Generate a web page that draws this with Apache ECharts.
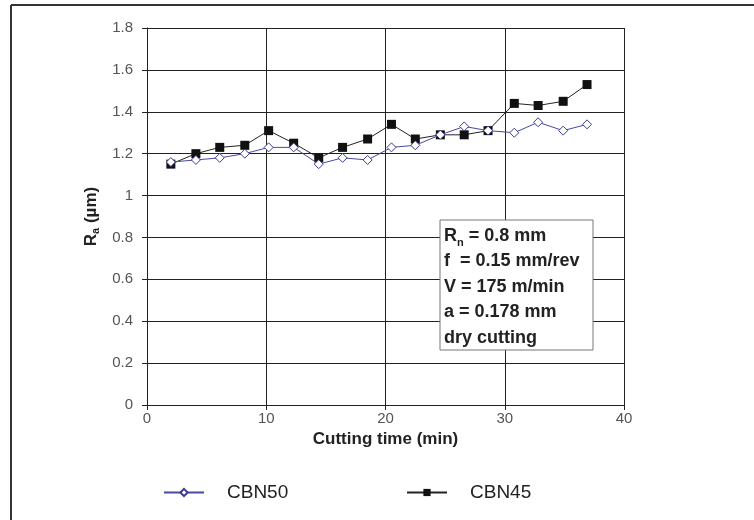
<!DOCTYPE html>
<html>
<head>
<meta charset="utf-8">
<script src="https://cdn.jsdelivr.net/npm/echarts@6/dist/echarts.min.js"></script>
<style>html,body{margin:0;padding:0;background:#fff}#c{width:754px;height:520px}</style>
</head>
<body>
<div id="c"></div>
<script>
const times = [2, 4.1, 6.1, 8.2, 10.2, 12.3, 14.4, 16.4, 18.5, 20.5, 22.5, 24.6, 26.6, 28.6, 30.8, 32.8, 34.9, 36.9];
const cbn50 = [1.16, 1.17, 1.18, 1.2, 1.23, 1.23, 1.15, 1.18, 1.17, 1.23, 1.24, 1.29, 1.33, 1.31, 1.3, 1.35, 1.31, 1.34];
const cbn45 = [1.15, 1.2, 1.23, 1.24, 1.31, 1.25, 1.18, 1.23, 1.27, 1.34, 1.27, 1.29, 1.29, 1.31, 1.44, 1.43, 1.45, 1.53];
const xTicks = [0, 10, 20, 30, 40];
const yTicks = [0, 0.2, 0.4, 0.6, 0.8, 1, 1.2, 1.4, 1.6, 1.8];
const noteLines = ['R{s|n} = 0.8 mm', 'f  = 0.15 mm/rev', 'V = 175 m/min', 'a = 0.178 mm', 'dry cutting'];

const chart = echarts.init(document.getElementById('c'), null, {renderer: 'canvas'});
const font = 'Liberation Sans, Arial, sans-serif';
chart.setOption({
  animation: false,
  backgroundColor: '#fff',
  grid: {left: 147, right: 130, top: 28, bottom: 115, containLabel: false},
  xAxis: {
    type: 'value', min: xTicks[0], max: xTicks[xTicks.length - 1], interval: 10,
    name: 'Cutting time (min)', nameLocation: 'middle', nameGap: 25,
    nameTextStyle: {fontFamily: font, fontWeight: 'bold', fontSize: 17, color: '#222'},
    axisLine: {show: true, lineStyle: {color: '#222', width: 1}},
    axisTick: {show: true, length: 5, lineStyle: {color: '#222'}},
    axisLabel: {fontFamily: font, fontSize: 15, color: '#555', margin: 6},
    splitLine: {show: true, lineStyle: {color: '#222', width: 1}}
  },
  yAxis: {
    type: 'value', min: yTicks[0], max: yTicks[yTicks.length - 1], interval: 0.2,
    name: 'R{s|a} (µm)', nameLocation: 'middle', nameGap: 31,
    nameTextStyle: {fontFamily: font, fontWeight: 'bold', fontSize: 17, color: '#222',
      rich: {s: {fontFamily: font, fontWeight: 'bold', fontSize: 11, color: '#222', verticalAlign: 'bottom', padding: [8, 0, 0, 0]}}},
    axisLine: {show: true, lineStyle: {color: '#222', width: 1}},
    axisTick: {show: true, length: 5, lineStyle: {color: '#222'}},
    axisLabel: {fontFamily: font, fontSize: 15, color: '#555', margin: 14,
      formatter: v => String(Math.round(v * 10) / 10)},
    splitLine: {show: true, lineStyle: {color: '#222', width: 1}}
  },
  legend: [
    {left: 158, top: 478, itemWidth: 40, itemHeight: 9, data: ['CBN50'],
      textStyle: {fontFamily: font, fontSize: 19, color: '#222', padding: [0, 0, 0, 18]}},
    {left: 401, top: 478, itemWidth: 40, itemHeight: 9, data: ['CBN45'],
      textStyle: {fontFamily: font, fontSize: 19, color: '#222', padding: [0, 0, 0, 18]}}
  ],
  series: [
    {name: 'CBN50', type: 'line', data: times.map((t, i) => [t, cbn50[i]]),
      symbol: 'diamond', symbolSize: 9, z: 3,
      lineStyle: {color: '#4848a0', width: 1},
      itemStyle: {color: '#fff', borderColor: '#3a3a96', borderWidth: 1}},
    {name: 'CBN45', type: 'line', data: times.map((t, i) => [t, cbn45[i]]),
      symbol: 'rect', symbolSize: 9, z: 2,
      lineStyle: {color: '#222', width: 1},
      itemStyle: {color: '#111', borderColor: '#111', borderWidth: 0}}
  ],
  graphic: [
    {type: 'line', shape: {x1: 11, y1: 5, x2: 11, y2: 520}, style: {stroke: '#333', lineWidth: 2}},
    {type: 'line', shape: {x1: 11, y1: 5, x2: 754, y2: 5}, style: {stroke: '#333', lineWidth: 2}},
    {type: 'rect', shape: {x: 440, y: 220, width: 153, height: 130}, z: 100,
      style: {fill: '#fff', stroke: '#777', lineWidth: 1}},
    {type: 'text', left: 444, top: 223, z: 101,
      style: {text: noteLines.join('\n'), fontFamily: font, fontWeight: 'bold', fontSize: 18, lineHeight: 25.5, fill: '#222',
        rich: {s: {fontFamily: font, fontWeight: 'bold', fontSize: 11, fill: '#222', verticalAlign: 'bottom', lineHeight: 25.5, padding: [6, 0, 0, 0]}}}}
  ]
});
</script>
</body>
</html>
